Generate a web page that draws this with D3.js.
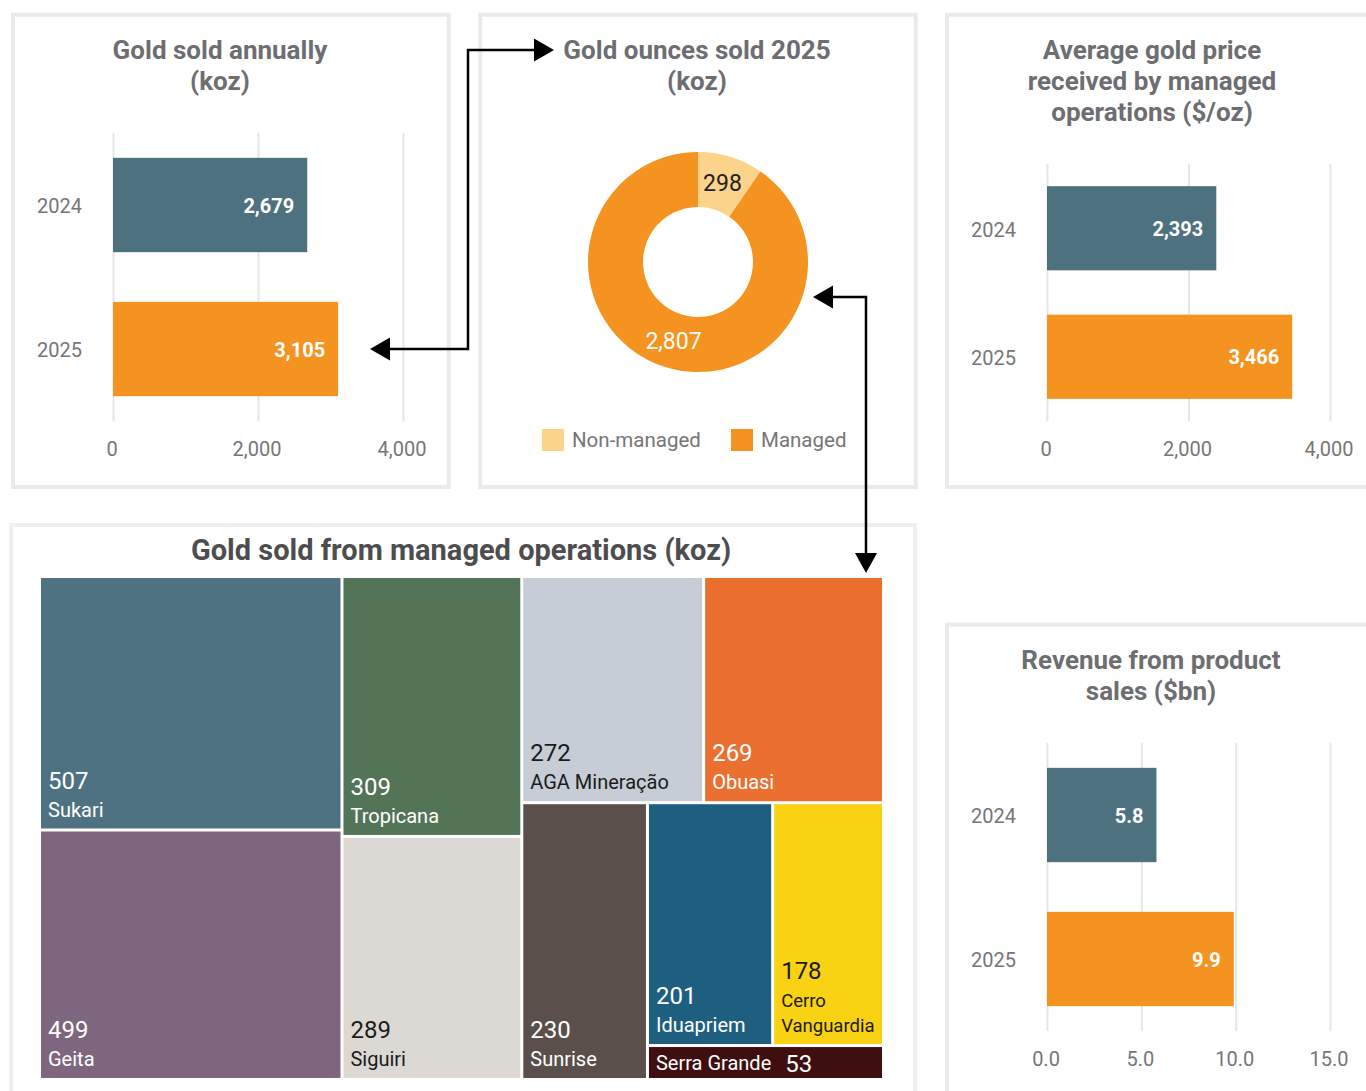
<!DOCTYPE html>
<html>
<head>
<meta charset="utf-8">
<script src="https://cdn.jsdelivr.net/npm/d3@7"></script>
<style>
  body { margin: 0; background: #fff; }
  svg { display: block; font-family: Roboto, sans-serif; }
</style>
</head>
<body>
<div id="app"></div>
<script>
// data
const years = ['2024', '2025'];
const goldSold = [2679, 3105];
const goldPrice = [2393, 3466];
const revenue = [5.8, 9.9];
const ozTicks = [0, 2000, 4000];
const revTicks = [0, 5, 10, 15];

const ownership = ['Non-managed', 'Managed'];
const ownershipValues = [298, 2807];

const mines = ['Sukari', 'Geita', 'Tropicana', 'Siguiri', 'AGA Mineração', 'Obuasi',
  'Sunrise', 'Iduapriem', 'Cerro Vanguardia', 'Serra Grande'];
const mineValues = [507, 499, 309, 289, 272, 269, 230, 201, 178, 53];

// styling
const yearColors = ['#4e717f', '#f59320'];
const donutColors = ['#fbd38b', '#f59320'];
const mineColors = ['#4e7282', '#7d667e', '#537456', '#dcd9d5', '#c6cdd6', '#eb702f',
  '#5a4f4b', '#1e5f80', '#f9d213', '#3f0f10'];
const mineText = ['#fff', '#fff', '#fff', '#1b1b1b', '#1b1b1b', '#fff', '#fff', '#fff', '#1b1b1b', '#fff'];
const titleGrey = '#6d6e71';
const labelGrey = '#767676';
const rowSizes = [2, 2, 2, 1, 2, 1];

const width = 1366, height = 1091;

const svg = d3.select('#app').append('svg')
  .attr('width', width)
  .attr('height', height);

// panel frames
const frames = [
  [13, 14.7, 435.7, 472.3],
  [480.3, 14.7, 435.4, 472.3],
  [947, 14.7, 500, 472.3],
  [947, 624.7, 500, 600],
  [11.3, 525, 903.7, 600]
];
svg.append('g').selectAll('rect')
  .data(frames)
  .join('rect')
  .attr('x', d => d[0]).attr('y', d => d[1])
  .attr('width', d => d[2]).attr('height', d => d[3])
  .attr('fill', 'none')
  .attr('stroke', (d, i) => i === 4 ? '#eeeff0' : '#e9eaec')
  .attr('stroke-width', 4);

const title = (lines, cx, y0, size, color) => {
  const t = svg.append('text')
    .attr('text-anchor', 'middle')
    .attr('font-size', size)
    .attr('font-weight', 700)
    .attr('fill', color);
  lines.forEach((line, i) => t.append('tspan').attr('x', cx).attr('y', y0 + i * 31).text(line));
};

const barChart = ({ values, domain, ticks, tickFmt, valueFmt, x0, x1, y0, y1 }) => {
  const g = svg.append('g');
  const x = d3.scaleLinear().domain(domain).range([x0, x1]);
  const y = d3.scaleBand().domain(years).range([y0, y1])
    .paddingInner(0.345).paddingOuter(0.1725);

  const xAxis = g.append('g')
    .attr('transform', `translate(0,${y1})`)
    .call(d3.axisBottom(x).tickValues(ticks).tickFormat(tickFmt)
      .tickSize(-(y1 - y0)).tickPadding(21))
    .attr('font-size', null).attr('font-family', null);
  xAxis.select('.domain').remove();
  xAxis.selectAll('line').attr('stroke', '#e6e6e6').attr('stroke-width', 2);
  xAxis.selectAll('text').attr('fill', labelGrey).attr('font-size', 20).attr('dx', -1.5);

  const yAxis = g.append('g')
    .attr('transform', `translate(${x0},0)`)
    .call(d3.axisLeft(y).tickSize(0).tickPadding(31))
    .attr('font-size', null).attr('font-family', null);
  yAxis.select('.domain').remove();
  yAxis.selectAll('text').attr('fill', labelGrey).attr('font-size', 20).attr('dy', '0.42em');

  g.append('g').selectAll('rect')
    .data(values)
    .join('rect')
    .attr('x', x(0))
    .attr('y', (d, i) => y(years[i]))
    .attr('width', d => x(d) - x(0))
    .attr('height', y.bandwidth())
    .attr('fill', (d, i) => yearColors[i]);

  g.append('g').selectAll('text')
    .data(values)
    .join('text')
    .attr('x', d => x(d) - 13)
    .attr('y', (d, i) => y(years[i]) + y.bandwidth() / 2)
    .attr('dy', '0.38em')
    .attr('text-anchor', 'end')
    .attr('font-size', 20)
    .attr('font-weight', 700)
    .attr('fill', '#fff')
    .text(valueFmt);
};

// gold sold annually
title(['Gold sold annually', '(koz)'], 220, 59, 26, titleGrey);
barChart({
  values: goldSold, domain: [0, 4000], ticks: ozTicks,
  tickFmt: d3.format(','), valueFmt: d3.format(','),
  x0: 113, x1: 403, y0: 133, y1: 421
});

// average gold price
title(['Average gold price', 'received by managed', 'operations ($/oz)'], 1152, 59, 26, titleGrey);
barChart({
  values: goldPrice, domain: [0, 4000], ticks: ozTicks,
  tickFmt: d3.format(','), valueFmt: d3.format(','),
  x0: 1047, x1: 1330, y0: 164, y1: 421
});

// revenue
title(['Revenue from product', 'sales ($bn)'], 1151, 669, 26, titleGrey);
barChart({
  values: revenue, domain: [0, 15], ticks: revTicks,
  tickFmt: d3.format('.1f'), valueFmt: d3.format('.1f'),
  x0: 1047, x1: 1330, y0: 743, y1: 1031
});

// donut
title(['Gold ounces sold 2025', '(koz)'], 697, 59, 26, titleGrey);
const pie = d3.pie().sort(null)(ownershipValues);
const arc = d3.arc().innerRadius(55).outerRadius(110);
const donut = svg.append('g').attr('transform', 'translate(698,262)');
donut.selectAll('path')
  .data(pie)
  .join('path')
  .attr('d', arc)
  .attr('fill', (d, i) => donutColors[i]);
donut.selectAll('text')
  .data(pie)
  .join('text')
  .attr('transform', d => `translate(${arc.centroid(d)})`)
  .attr('text-anchor', 'middle')
  .attr('dy', '0.35em')
  .attr('font-size', 23)
  .attr('fill', (d, i) => i === 0 ? '#222' : '#fff')
  .text(d => d3.format(',')(d.value));

const legend = svg.append('g').selectAll('g')
  .data(ownership)
  .join('g')
  .attr('transform', (d, i) => `translate(${[542, 731][i]},429)`);
legend.append('rect')
  .attr('width', 22).attr('height', 22)
  .attr('fill', (d, i) => donutColors[i]);
legend.append('text')
  .attr('x', 30).attr('y', 18)
  .attr('font-size', 20.5)
  .attr('fill', labelGrey)
  .text(d => d);

// treemap of managed operations
title(['Gold sold from managed operations (koz)'], 461, 560, 29, '#4d4d4f');

const stripTile = (parent, x0, y0, x1, y1) => {
  const nodes = parent.children;
  let value = parent.value, i0 = 0;
  rowSizes.forEach(k => {
    const row = { children: nodes.slice(i0, i0 + k) };
    row.value = d3.sum(row.children, d => d.value);
    const dx = x1 - x0, dy = y1 - y0;
    if (dx < dy) d3.treemapDice(row, x0, y0, x1, y0 += dy * row.value / value);
    else d3.treemapSlice(row, x0, y0, x0 += dx * row.value / value, y1);
    value -= row.value;
    i0 += k;
  });
};

const root = d3.hierarchy({
  children: mines.map((name, i) => ({ name, value: mineValues[i], i }))
}).sum(d => d.value || 0);

d3.treemap().tile(stripTile).size([841, 500]).paddingInner(3)(root);

const tm = svg.append('g').attr('transform', 'translate(41,578)');
const leaf = tm.selectAll('g')
  .data(root.leaves())
  .join('g');

leaf.append('rect')
  .attr('x', d => d.x0).attr('y', d => d.y0)
  .attr('width', d => d.x1 - d.x0).attr('height', d => d.y1 - d.y0)
  .attr('fill', d => mineColors[d.data.i]);

leaf.each(function (d) {
  const g = d3.select(this);
  const w = d.x1 - d.x0, h = d.y1 - d.y0;
  const fill = mineText[d.data.i];
  const lx = d.x0 + 7;
  if (h < 50) {
    const name = g.append('text')
      .attr('x', lx).attr('y', d.y1 - 8)
      .attr('font-size', 20).attr('fill', fill)
      .text(d.data.name);
    g.append('text')
      .attr('x', lx + name.node().getComputedTextLength() + 14).attr('y', d.y1 - 6)
      .attr('font-size', 24).attr('fill', fill)
      .text(d.data.value);
    return;
  }
  const name = g.append('text')
    .attr('font-size', 20).attr('fill', fill)
    .text(d.data.name);
  let lines = [d.data.name];
  if (name.node().getComputedTextLength() > w - 14) {
    lines = d.data.name.split(' ');
    name.attr('font-size', 18.5);
  }
  name.text(null);
  lines.forEach((line, j) => name.append('tspan')
    .attr('x', lx)
    .attr('y', d.y1 - 12 - (lines.length - 1 - j) * 25)
    .text(line));
  g.append('text')
    .attr('x', lx)
    .attr('y', d.y1 - 12 - (lines.length - 1) * 25 - 28)
    .attr('font-size', 24).attr('fill', fill)
    .text(d.data.value);
});

// connector arrows
const arrows = svg.append('g');
arrows.append('path')
  .attr('d', 'M389,349H468V50H536')
  .attr('fill', 'none').attr('stroke', '#000').attr('stroke-width', 2.5);
arrows.append('path')
  .attr('d', 'M832,297H866V555')
  .attr('fill', 'none').attr('stroke', '#000').attr('stroke-width', 2.5);
const heads = [
  'M370,349L390,337.5L390,360.5Z',
  'M554,50L534,38.5L534,61.5Z',
  'M813,297L833,285.5L833,308.5Z',
  'M866,573L855,553L877,553Z'
];
arrows.selectAll('path.head')
  .data(heads)
  .join('path')
  .attr('class', 'head')
  .attr('d', d => d)
  .attr('fill', '#000');
</script>
</body>
</html>
